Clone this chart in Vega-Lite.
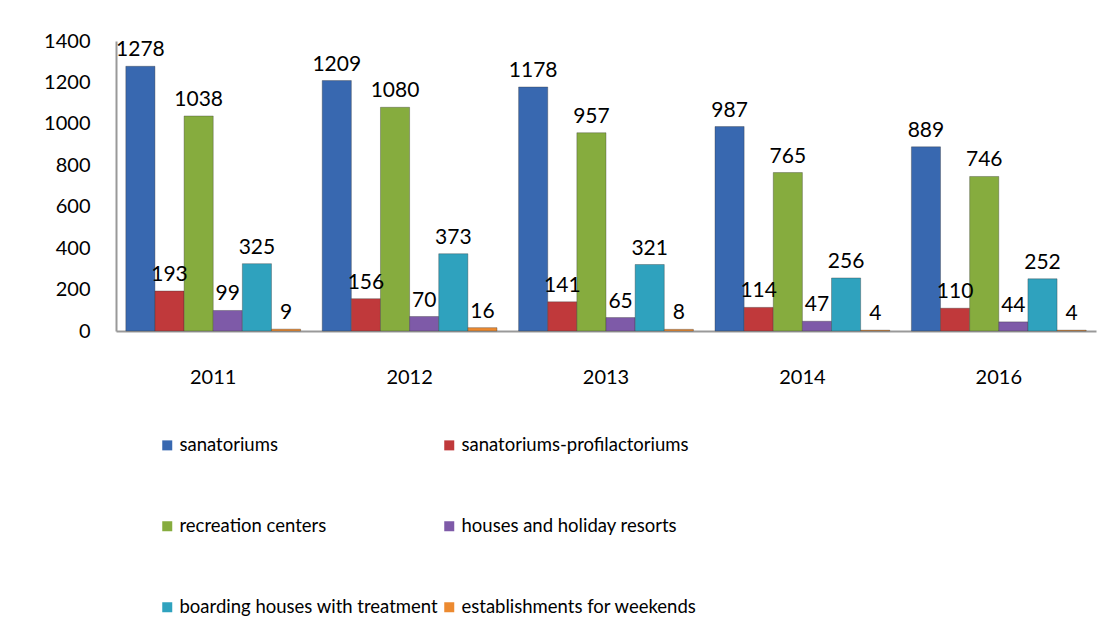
{
  "$schema": "https://vega.github.io/schema/vega-lite/v6.json",
  "autosize": {"type": "none"},
  "width": 980,
  "height": 290,
  "padding": {"left": 116, "top": 41, "right": 17, "bottom": 299},
  "background": "white",
  "config": {
    "view": {"stroke": null},
    "font": "Lato",
    "axis": {"labelFont": "Lato", "labelFontSize": 20, "labelColor": "#000000", "ticks": false, "grid": false, "domainColor": "#999999", "domainWidth": 2, "title": null},
    "legend": {"labelFont": "Lato", "labelFontSize": 18.5, "labelColor": "#000000", "labelLimit": 0}
  },
  "data": {"values": [
    {"year": "2011", "type": "sanatoriums", "value": 1278},
    {"year": "2011", "type": "sanatoriums-profilactoriums", "value": 193},
    {"year": "2011", "type": "recreation centers", "value": 1038},
    {"year": "2011", "type": "houses and holiday resorts", "value": 99},
    {"year": "2011", "type": "boarding houses with treatment", "value": 325},
    {"year": "2011", "type": "establishments for weekends", "value": 9},
    {"year": "2012", "type": "sanatoriums", "value": 1209},
    {"year": "2012", "type": "sanatoriums-profilactoriums", "value": 156},
    {"year": "2012", "type": "recreation centers", "value": 1080},
    {"year": "2012", "type": "houses and holiday resorts", "value": 70},
    {"year": "2012", "type": "boarding houses with treatment", "value": 373},
    {"year": "2012", "type": "establishments for weekends", "value": 16},
    {"year": "2013", "type": "sanatoriums", "value": 1178},
    {"year": "2013", "type": "sanatoriums-profilactoriums", "value": 141},
    {"year": "2013", "type": "recreation centers", "value": 957},
    {"year": "2013", "type": "houses and holiday resorts", "value": 65},
    {"year": "2013", "type": "boarding houses with treatment", "value": 321},
    {"year": "2013", "type": "establishments for weekends", "value": 8},
    {"year": "2014", "type": "sanatoriums", "value": 987},
    {"year": "2014", "type": "sanatoriums-profilactoriums", "value": 114},
    {"year": "2014", "type": "recreation centers", "value": 765},
    {"year": "2014", "type": "houses and holiday resorts", "value": 47},
    {"year": "2014", "type": "boarding houses with treatment", "value": 256},
    {"year": "2014", "type": "establishments for weekends", "value": 4},
    {"year": "2016", "type": "sanatoriums", "value": 889},
    {"year": "2016", "type": "sanatoriums-profilactoriums", "value": 110},
    {"year": "2016", "type": "recreation centers", "value": 746},
    {"year": "2016", "type": "houses and holiday resorts", "value": 44},
    {"year": "2016", "type": "boarding houses with treatment", "value": 252},
    {"year": "2016", "type": "establishments for weekends", "value": 4}
  ]},
  "encoding": {
    "x": {"field": "year", "type": "nominal", "sort": null,
          "scale": {"paddingInner": 0.11, "paddingOuter": 0.05},
          "axis": {"labelAngle": 0, "labelPadding": 36}},
    "xOffset": {"field": "type", "type": "nominal",
                "sort": ["sanatoriums", "sanatoriums-profilactoriums", "recreation centers", "houses and holiday resorts", "boarding houses with treatment", "establishments for weekends"]},
    "y": {"field": "value", "type": "quantitative",
          "scale": {"domain": [0, 1400]},
          "axis": {"values": [0, 200, 400, 600, 800, 1000, 1200, 1400], "format": "d", "labelPadding": 26}}
  },
  "layer": [
    {
      "mark": {"type": "bar", "strokeWidth": 1, "stroke": "#333333", "strokeOpacity": 0.35},
      "encoding": {
        "color": {"field": "type", "type": "nominal",
          "scale": {
            "domain": ["sanatoriums", "sanatoriums-profilactoriums", "recreation centers", "houses and holiday resorts", "boarding houses with treatment", "establishments for weekends"],
            "range": ["#3868B0", "#C0393B", "#86AC3E", "#7E5AA8", "#2FA2BE", "#EC8A30"]
          },
          "legend": {"title": null, "orient": "none", "legendX": 42, "legendY": 395, "columns": 2, "direction": "horizontal",
                     "symbolType": "square", "symbolSize": 100, "symbolStrokeWidth": 0, "rowPadding": 62, "columnPadding": 2, "labelOffset": 3}
        }
      }
    },
    {
      "mark": {"type": "text", "baseline": "bottom", "dy": -6, "fontSize": 21, "font": "Lato", "color": "#000000"},
      "encoding": {"text": {"field": "value", "type": "quantitative"}}
    }
  ]
}
